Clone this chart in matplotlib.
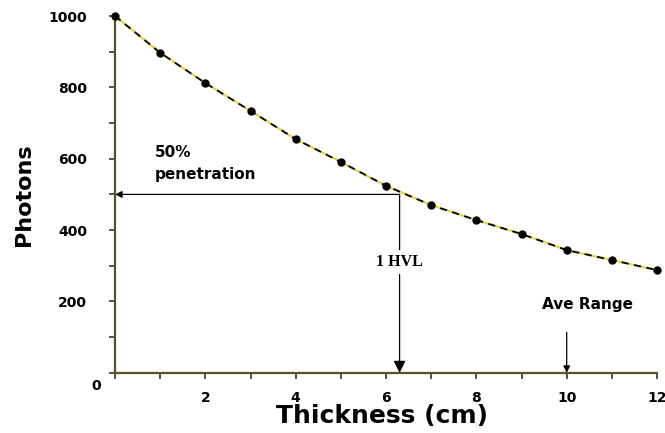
import matplotlib
matplotlib.use("Agg")
import matplotlib.pyplot as plt

thickness = [0, 1, 2, 3, 4, 5, 6, 7, 8, 9, 10, 11, 12]
photons = [1000, 897, 812, 734, 655, 591, 524, 470, 428, 389, 344, 316, 288]
hvl_x = 6.3
half_level = 500
ave_range_x = 10
x_major = [2, 4, 6, 8, 10, 12]
y_major = [200, 400, 600, 800, 1000]

fig = plt.figure(figsize=(6.65, 4.33), dpi=100)
ax = fig.add_axes([0.173, 0.139, 0.815, 0.824])
ax.set_xlim(0, 12)
ax.set_ylim(0, 1000)

spine_col = "#5b5222"
for s in ["top", "right"]:
    ax.spines[s].set_visible(False)
for s in ["left", "bottom"]:
    ax.spines[s].set_color(spine_col)
    ax.spines[s].set_linewidth(1.6)

# curve: yellow under black dashes
ax.plot(thickness, photons, color="#e8d44a", lw=1.6, zorder=3, clip_on=False)
ax.plot(thickness, photons, color="black", lw=1.3, ls=(0, (4, 3)), zorder=4,
        marker="o", ms=5, mfc="black", mec="black", clip_on=False)

# ticks
ax.set_xticks(x_major)
ax.set_xticks(range(0, 13), minor=True)
ax.set_yticks(y_major)
ax.set_yticks(range(0, 1001, 100), minor=True)
ax.tick_params(axis="both", which="both", direction="out", length=4, width=1.1, color="#222222")
ax.tick_params(axis="y", which="major", pad=16)
ax.tick_params(axis="x", which="major", pad=9)
for lab in ax.get_xticklabels() + ax.get_yticklabels():
    lab.set_fontfamily("DejaVu Sans")
    lab.set_fontweight("bold")
    lab.set_fontsize(10)
ax.annotate("0", xy=(0, 0), xycoords="data", xytext=(-19, -13), textcoords="offset pixels",
            ha="center", va="center", fontsize=10, fontweight="bold", family="DejaVu Sans")

# 50% penetration horizontal arrow
ax.annotate("", xy=(0, half_level), xytext=(hvl_x, half_level),
            arrowprops=dict(arrowstyle="-|>", color="black", lw=0.9, mutation_scale=10,
                            shrinkA=0, shrinkB=0), zorder=5)
# HVL vertical arrow
ax.annotate("", xy=(hvl_x, 0), xytext=(hvl_x, half_level),
            arrowprops=dict(arrowstyle="-|>", color="black", lw=0.9, mutation_scale=18,
                            shrinkA=0, shrinkB=0), zorder=5)
ax.text(hvl_x, 310, "1 HVL", ha="center", va="center", fontsize=11.5, fontweight="bold",
        family="Liberation Serif", zorder=6,
        bbox=dict(boxstyle="square,pad=0.25", fc="white", ec="none"))

# Ave Range arrow
ax.annotate("", xy=(ave_range_x, 0), xytext=(ave_range_x, 113),
            arrowprops=dict(arrowstyle="-|>", color="black", lw=0.9, mutation_scale=10,
                            shrinkA=0, shrinkB=0), zorder=5)
ax.text(10.45, 192, "Ave Range", ha="center", va="center", fontsize=11, fontweight="bold",
        family="DejaVu Sans")

ax.text(0.88, 618, "50%", ha="left", va="center", fontsize=11, fontweight="bold", family="DejaVu Sans")
ax.text(0.88, 557, "penetration", ha="left", va="center", fontsize=11, fontweight="bold", family="DejaVu Sans")

fig.text(0.036, 0.55, "Photons", rotation=90, ha="center", va="center", fontsize=16,
         fontweight="bold", family="DejaVu Sans")
fig.text(0.574, 0.024, "Thickness (cm)", ha="center", va="baseline", fontsize=18,
         fontweight="bold", family="DejaVu Sans")

fig.savefig("out.png", dpi=100)
